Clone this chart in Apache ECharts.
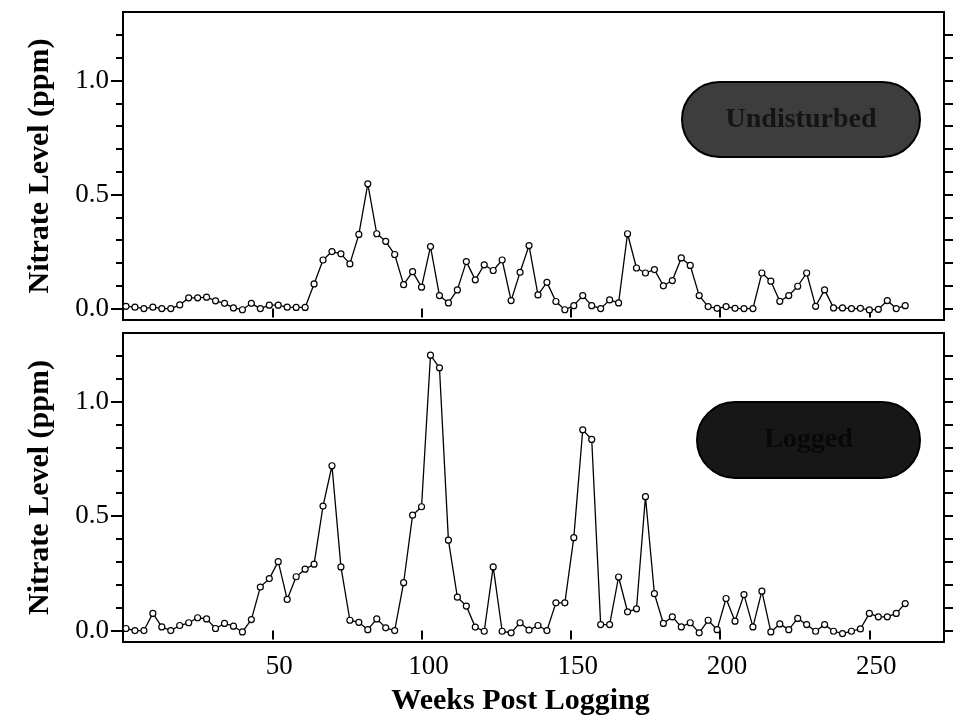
<!DOCTYPE html>
<html>
<head>
<meta charset="utf-8">
<script src="https://cdn.jsdelivr.net/npm/echarts@6/dist/echarts.min.js"></script>
<style>
html,body{margin:0;padding:0;background:#fff;}
#chart{width:960px;height:718px;}
</style>
</head>
<body>
<div id="chart"></div>
<script>
const weeks = [1,4,7,10,13,16,19,22,25,28,31,34,37,40,43,46,49,52,55,58,61,64,67,70,73,76,79,82,85,88,91,94,97,100,103,106,109,112,115,118,121,124,127,130,133,136,139,142,145,148,151,154,157,160,163,166,169,172,175,178,181,184,187,190,193,196,199,202,205,208,211,214,217,220,223,226,229,232,235,238,241,244,247,250,253,256,259,262];

const undisturbedNitrate = [0.010,0.006,0.000,0.006,0.000,0.000,0.016,0.047,0.047,0.050,0.034,0.023,0.003,-0.005,0.023,0.000,0.015,0.015,0.006,0.005,0.005,0.108,0.213,0.250,0.240,0.196,0.325,0.547,0.328,0.295,0.237,0.105,0.162,0.094,0.272,0.057,0.025,0.082,0.206,0.126,0.192,0.167,0.213,0.035,0.159,0.276,0.060,0.115,0.031,-0.005,0.013,0.057,0.013,0.000,0.038,0.025,0.328,0.178,0.156,0.171,0.100,0.123,0.222,0.189,0.057,0.009,0.001,0.009,0.001,0.000,0.000,0.156,0.120,0.032,0.057,0.098,0.156,0.010,0.082,0.003,0.003,0.000,0.001,-0.006,-0.003,0.035,0.000,0.013];

const loggedNitrate = [0.009,0.000,0.000,0.075,0.016,0.000,0.022,0.034,0.056,0.051,0.009,0.031,0.019,-0.006,0.048,0.190,0.227,0.301,0.136,0.235,0.268,0.290,0.544,0.720,0.278,0.045,0.036,0.004,0.051,0.012,0.000,0.209,0.504,0.541,1.203,1.148,0.395,0.146,0.107,0.015,-0.003,0.278,-0.003,-0.010,0.034,0.002,0.022,0.000,0.121,0.121,0.406,0.877,0.835,0.026,0.026,0.234,0.082,0.095,0.585,0.161,0.031,0.060,0.016,0.034,-0.010,0.045,0.004,0.140,0.041,0.157,0.016,0.172,-0.006,0.029,0.004,0.053,0.026,-0.003,0.026,-0.003,-0.013,-0.003,0.007,0.075,0.060,0.060,0.075,0.118];

const xTickValues = [50,100,150,200,250];
const yMajorTicks = [0,0.5,1.0];
const yMinorTicks = [0,0.1,0.2,0.3,0.4,0.5,0.6,0.7,0.8,0.9,1.0,1.1,1.2];
const panelLabels = ['Undisturbed','Logged'];
const xTitle = 'Weeks Post Logging';
const yTitle = 'Nitrate Level (ppm)';

const FONT = '"Liberation Serif","Times New Roman",serif';
const grids = [
  {left:123, right:16, top:12, height:308},
  {left:123, right:16, top:333, height:309}
];

function xAxisFor(i){
  const last = i === 1;
  return {
    gridIndex:i, type:'value', min:0, max:275,
    axisLine:{show:false},
    axisTick:{show:true, inside:false, length:9, customValues:xTickValues, lineStyle:{color:'#000', width:2}},
    axisLabel:{show:last, customValues:xTickValues, fontFamily:FONT, fontSize:27, color:'#000', margin:11, padding:[0,0,0,14]},
    splitLine:{show:false},
    name: last ? xTitle : '',
    nameLocation:'middle', nameGap:44,
    nameTextStyle:{fontFamily:FONT, fontSize:30, fontWeight:'bold', color:'#000', padding:[0,26,0,0]}
  };
}
function yAxesFor(i){
  return [
    {
      gridIndex:i, type:'value', position:'left', min:-0.05, max:1.3,
      axisLine:{show:false},
      axisTick:{show:true, length:12, customValues:yMajorTicks, lineStyle:{color:'#000', width:2}},
      axisLabel:{customValues:yMajorTicks, formatter:v=>Number(v).toFixed(1), fontFamily:FONT, fontSize:27, color:'#000', margin:14},
      splitLine:{show:false},
      name:yTitle, nameLocation:'middle', nameGap:68,
      nameTextStyle:{fontFamily:FONT, fontSize:30, fontWeight:'bold', color:'#000'}
    },
    {
      gridIndex:i, type:'value', position:'left', min:-0.05, max:1.3,
      axisLine:{show:false},
      axisTick:{show:true, length:7, customValues:yMinorTicks, lineStyle:{color:'#000', width:2}},
      axisLabel:{show:false}, splitLine:{show:false}
    },
    {
      gridIndex:i, type:'value', position:'right', min:-0.05, max:1.3,
      axisLine:{show:false},
      axisTick:{show:true, length:9, customValues:yMinorTicks, lineStyle:{color:'#000', width:2}},
      axisLabel:{show:false}, splitLine:{show:false}
    }
  ];
}
function seriesFor(i, values){
  return {
    type:'line', xAxisIndex:i, yAxisIndex:i*3,
    data: weeks.map((w,k)=>[w, values[k]]),
    symbol:'circle', symbolSize:6, showAllSymbol:true,
    itemStyle:{color:'#fff', borderColor:'#000', borderWidth:1.2},
    lineStyle:{color:'#000', width:1.3},
    emphasis:{disabled:true},
    animation:false
  };
}
function pill(x,y,w,h,fill,label,textColor){
  return {
    type:'group', children:[
      {type:'rect', shape:{x:x, y:y, width:w, height:h, r:h/2}, style:{fill:fill, stroke:'#000', lineWidth:2}, z:10},
      {type:'text', x:x+w/2, y:y+h/2, style:{text:label, fill:textColor, font:'bold 28px '+FONT, align:'center', verticalAlign:'middle'}, z:11}
    ]
  };
}

const chart = echarts.init(document.getElementById('chart'), null, {renderer:'canvas'});
chart.setOption({
  backgroundColor:'#fff',
  animation:false,
  grid: grids.map(g=>Object.assign({show:true, borderColor:'#000', borderWidth:2, backgroundColor:'transparent'}, g)),
  xAxis:[xAxisFor(0), xAxisFor(1)],
  yAxis:[...yAxesFor(0), ...yAxesFor(1)],
  series:[seriesFor(0, undisturbedNitrate), seriesFor(1, loggedNitrate)],
  graphic:[
    pill(682,82,238,75,'#3d3d3d',panelLabels[0],'#141414'),
    pill(697,402,223,76,'#171717',panelLabels[1],'#080808')
  ]
});
</script>
</body>
</html>
